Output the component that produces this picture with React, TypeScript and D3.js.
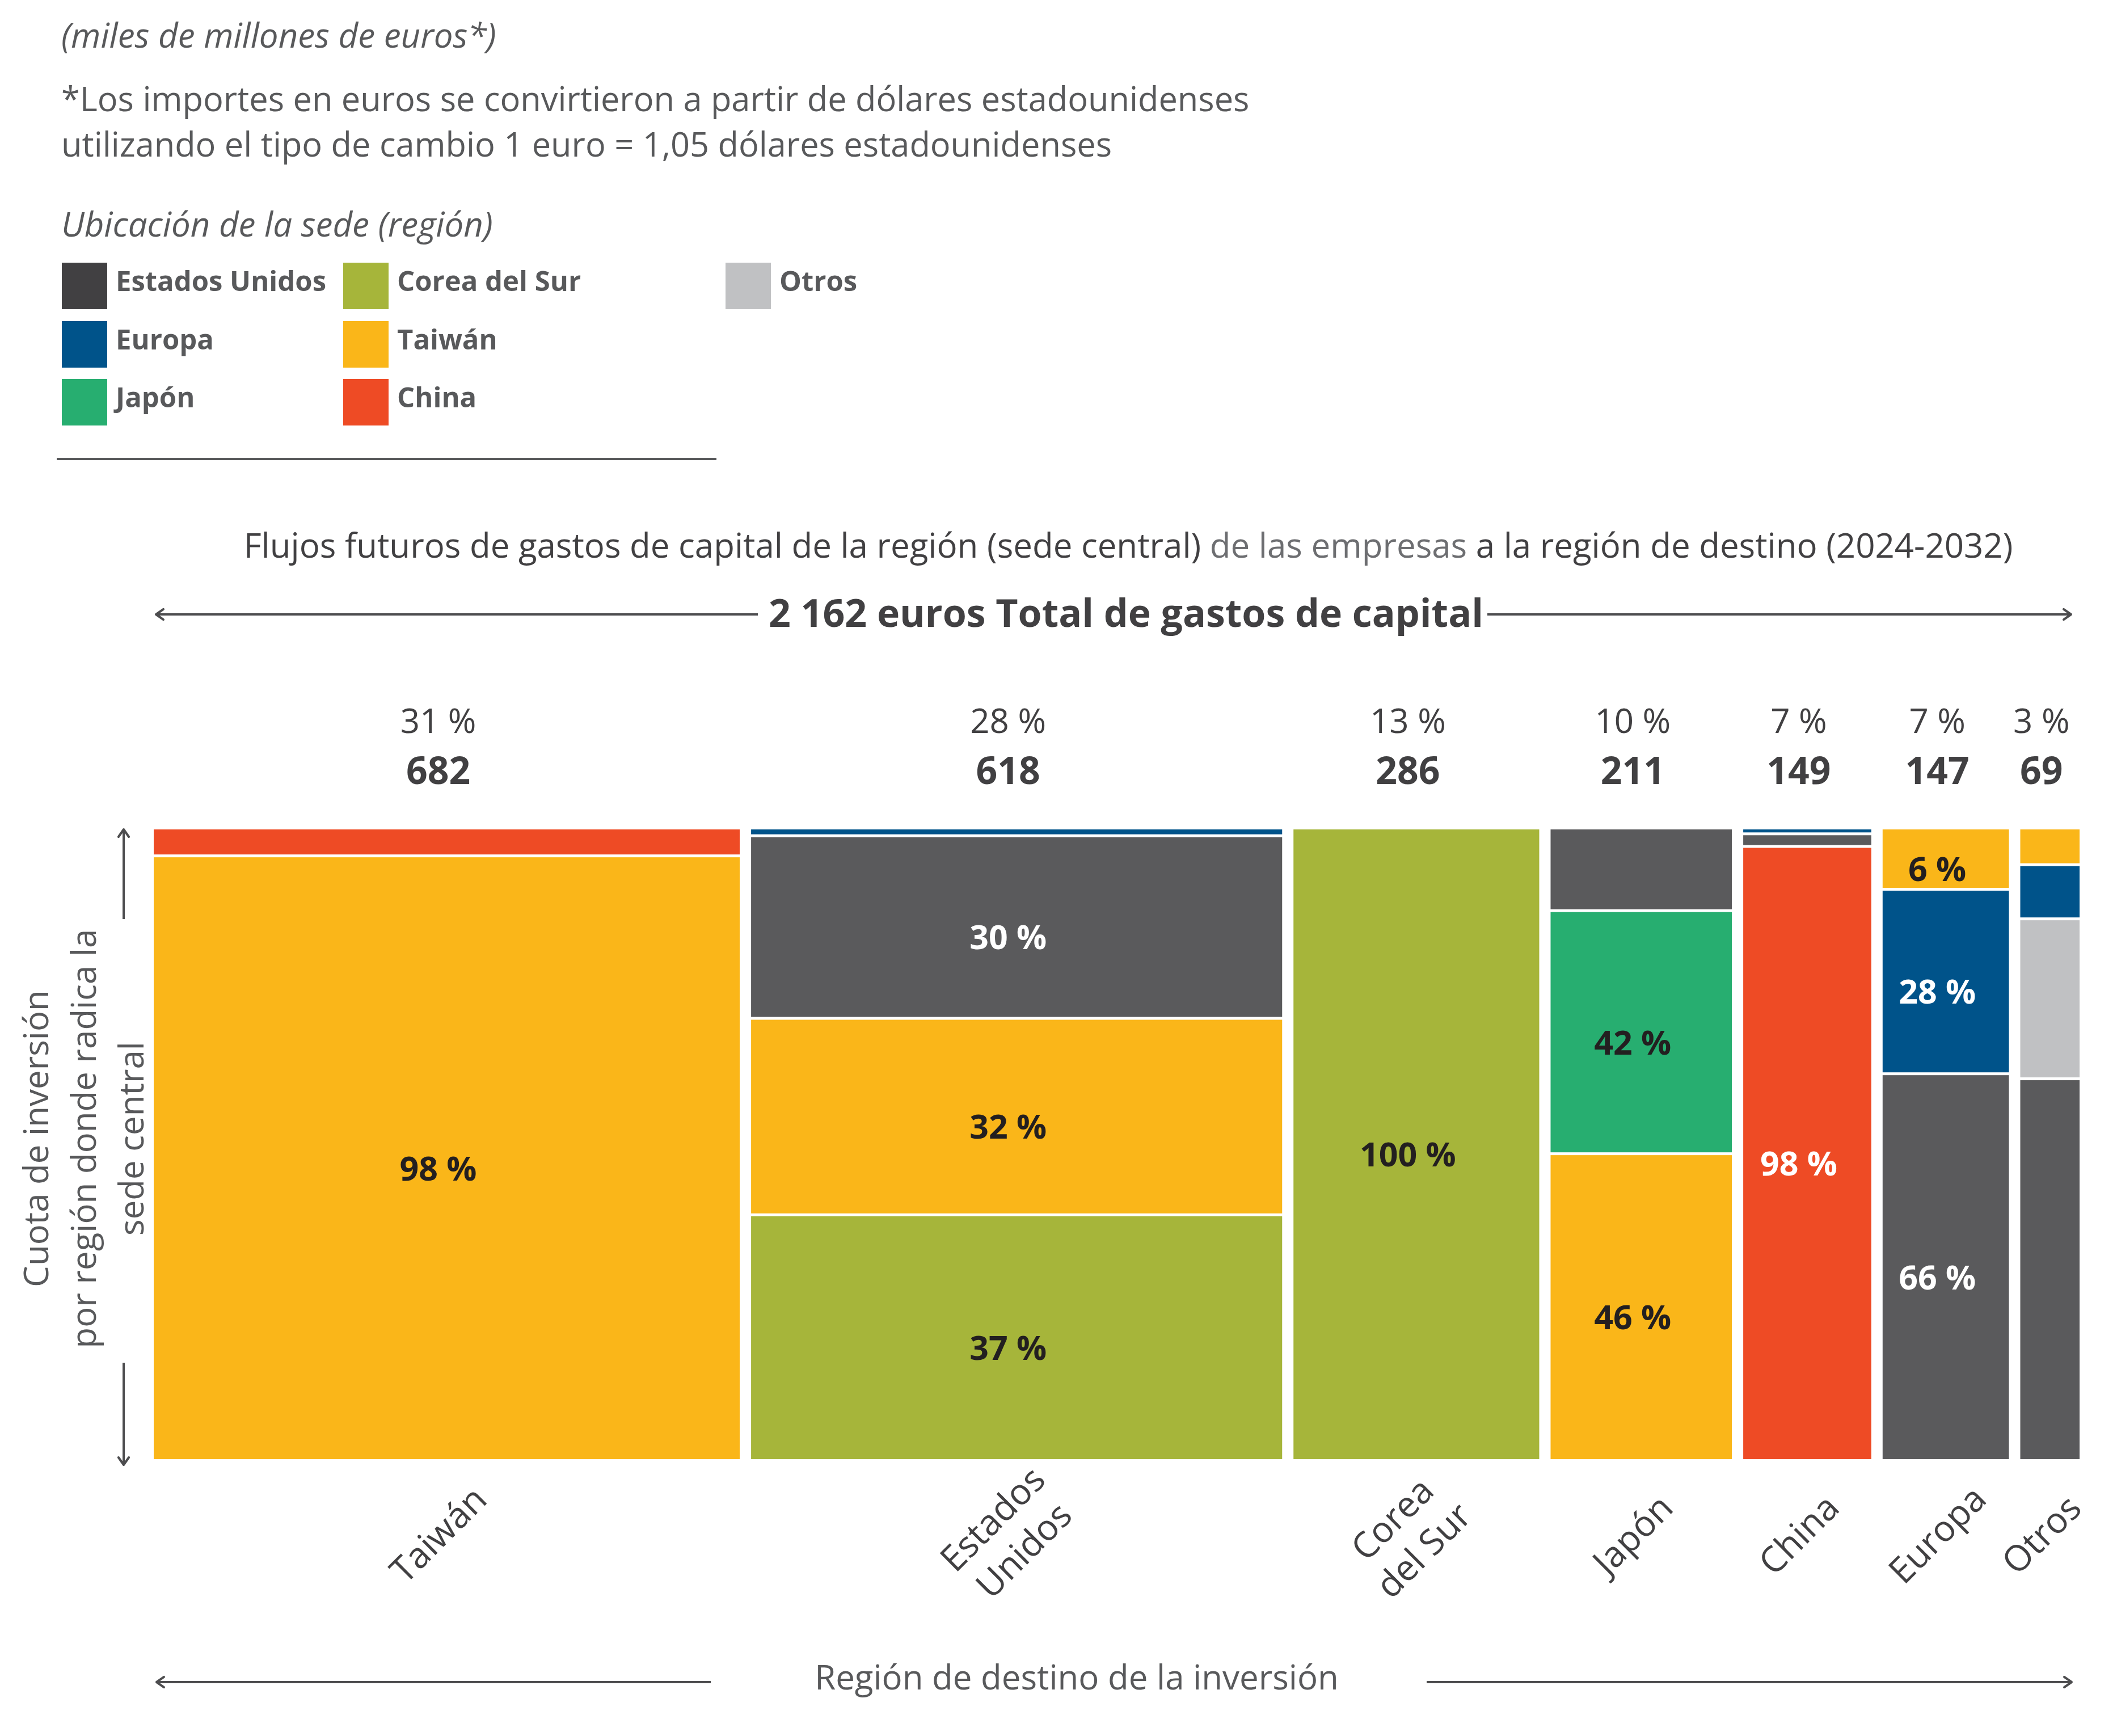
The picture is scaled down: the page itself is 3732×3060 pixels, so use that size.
import { scaleLinear } from 'd3'

const destinations = ['Taiwán', 'Estados Unidos', 'Corea del Sur', 'Japón', 'China', 'Europa', 'Otros']
const destinationLines = [['Taiwán'], ['Estados', 'Unidos'], ['Corea', 'del Sur'], ['Japón'], ['China'], ['Europa'], ['Otros']]
const destinationTotals = [682, 618, 286, 211, 149, 147, 69]
const destinationPercents = ['31 %', '28 %', '13 %', '10 %', '7 %', '7 %', '3 %']

const hqRegions = ['Estados Unidos', 'Europa', 'Japón', 'Corea del Sur', 'Taiwán', 'China', 'Otros']
const hqColors = ['#5a5a5c', '#00538a', '#27ae70', '#a6b53a', '#fab619', '#ee4b25', '#c0c1c3']

// segments of each destination column, top to bottom
const stackRegions = [
  ['China', 'Taiwán'],
  ['Europa', 'Estados Unidos', 'Taiwán', 'Corea del Sur'],
  ['Corea del Sur'],
  ['Estados Unidos', 'Japón', 'Taiwán'],
  ['Europa', 'Estados Unidos', 'China'],
  ['Taiwán', 'Europa', 'Estados Unidos'],
  ['Taiwán', 'Europa', 'Otros', 'Estados Unidos'],
]
const stackShares = [
  [4.2, 95.8],
  [1, 29, 31.2, 38.8],
  [100],
  [12.9, 38.6, 48.5],
  [0.7, 2, 97.3],
  [9.5, 29.3, 61.2],
  [5.6, 8.6, 25.4, 60.4],
]
const stackLabels = [
  ['', '98 %'],
  ['', '30 %', '32 %', '37 %'],
  ['100 %'],
  ['', '42 %', '46 %'],
  ['', '', '98 %'],
  ['6 %', '28 %', '66 %'],
  ['', '', '', ''],
]

const legendColumns = [
  ['Estados Unidos', 'Europa', 'Japón'],
  ['Corea del Sur', 'Taiwán', 'China'],
  ['Otros'],
]

const FONT = "'Open Sans', sans-serif"
const TEXT = '#414042'
const SOFT = '#58595b'

function colorOf(region: string) {
  return hqColors[hqRegions.indexOf(region)]
}

function Arrow({ x, y, dir }: { x: number; y: number; dir: 'left' | 'right' | 'up' | 'down' }) {
  const s = 13
  const d =
    dir === 'left'
      ? `M${x + s},${y - s * 0.7} L${x},${y} L${x + s},${y + s * 0.7}`
      : dir === 'right'
        ? `M${x - s},${y - s * 0.7} L${x},${y} L${x - s},${y + s * 0.7}`
        : dir === 'up'
          ? `M${x - s * 0.7},${y + s} L${x},${y} L${x + s * 0.7},${y + s}`
          : `M${x - s * 0.7},${y - s} L${x},${y} L${x + s * 0.7},${y - s}`
  return <path d={d} fill="none" stroke="#4d4d4f" strokeWidth={4} strokeLinecap="round" strokeLinejoin="round" />
}

export default function App() {
  const width = 3732
  const height = 3060
  const left = 271
  const right = 3666
  const top = 1462
  const bottom = 2572
  const gap = 20
  const segGap = 5
  const nudge = -15

  const total = destinationTotals.reduce((a, b) => a + b, 0)
  const usable = right - left - gap * (destinations.length - 1)
  const xScale = scaleLinear().domain([0, total]).range([0, usable])
  const yScale = scaleLinear().domain([0, 100]).range([top, bottom])

  let running = 0
  const columns = destinations.map((name, i) => {
    const x0 = left + xScale(running) + gap * i
    running += destinationTotals[i]
    const x1 = left + xScale(running) + gap * i
    let acc = 0
    const segs = stackRegions[i].map((region, j) => {
      const s0 = acc
      acc += stackShares[i][j]
      const last = j === stackRegions[i].length - 1
      const y0 = yScale(s0) + (j === 0 ? 0 : segGap / 2)
      const y1 = yScale(acc) - (last ? 0 : segGap / 2)
      return { region, y0, y1, label: stackLabels[i][j] }
    })
    return { name, x0, x1, cx: (x0 + x1) / 2, segs }
  })

  const legendX = [109, 605, 1279]
  const legendY = [463, 566, 668]
  const whiteText = ['Estados Unidos', 'Europa', 'China']

  return (
    <svg width={width} height={height} viewBox={`0 0 ${width} ${height}`} style={{ display: 'block', fontFamily: FONT }}>
      <style>{'body{margin:0}'}</style>
      <rect width={width} height={height} fill="#ffffff" />

      {/* notes */}
      <text x={108} y={84} fontSize={60} fontStyle="italic" fill={SOFT}>(miles de millones de euros*)</text>
      <text x={108} y={196} fontSize={59.5} fill={SOFT}>*Los importes en euros se convirtieron a partir de dólares estadounidenses</text>
      <text x={108} y={276} fontSize={59.5} fill={SOFT}>utilizando el tipo de cambio 1 euro = 1,05 dólares estadounidenses</text>
      <text x={108} y={417} fontSize={60} fontStyle="italic" fill={SOFT}>Ubicación de la sede (región)</text>

      {/* legend */}
      {legendColumns.map((col, ci) =>
        col.map((region, ri) => (
          <g key={region} transform={`translate(${legendX[ci]},${legendY[ri]})`}>
            <rect width={80} height={82} fill={region === 'Estados Unidos' ? '#414042' : colorOf(region)} />
            <text x={95} y={50} fontSize={49} fontWeight={700} fill={SOFT}>{region}</text>
          </g>
        )),
      )}
      <line x1={100} x2={1263} y1={809} y2={809} stroke="#58595b" strokeWidth={4} />

      {/* title */}
      <text x={1989} y={983} fontSize={60} fill={TEXT} textAnchor="middle">
        Flujos futuros de gastos de capital de la región (sede central)
        <tspan fill="#6d6e71"> de las empresas</tspan> a la región de destino (2024-2032)
      </text>
      <text x={1985} y={1105} fontSize={68} fontWeight={700} fill={TEXT} textAnchor="middle">
        2 162 euros Total de gastos de capital
      </text>
      <line x1={275} x2={1336} y1={1083} y2={1083} stroke="#4d4d4f" strokeWidth={4} />
      <Arrow x={275} y={1083} dir="left" />
      <line x1={2622} x2={3651} y1={1083} y2={1083} stroke="#4d4d4f" strokeWidth={4} />
      <Arrow x={3651} y={1083} dir="right" />

      {/* column heads */}
      {columns.map((c, i) => (
        <g key={c.name}>
          <text x={c.cx + nudge} y={1292} fontSize={60} fill={TEXT} textAnchor="middle">{destinationPercents[i]}</text>
          <text x={c.cx + nudge} y={1382} fontSize={66} fontWeight={700} fill={TEXT} textAnchor="middle">{destinationTotals[i]}</text>
        </g>
      ))}

      {/* mosaic */}
      {columns.map((c) => (
        <g key={c.name}>
          {c.segs.map((s, j) => (
            <rect key={j} x={c.x0} y={s.y0} width={c.x1 - c.x0} height={Math.max(0, s.y1 - s.y0)} fill={colorOf(s.region)} />
          ))}
          {c.segs.map((s, j) =>
            s.label ? (
              <text
                key={`l${j}`}
                x={c.cx + nudge}
                y={(s.y0 + s.y1) / 2 + 18}
                dy="0.36em"
                fontSize={59}
                fontWeight={700}
                textAnchor="middle"
                fill={whiteText.includes(s.region) ? '#ffffff' : '#231f20'}
              >
                {s.label}
              </text>
            ) : null,
          )}
        </g>
      ))}

      {/* destination labels */}
      {columns.map((c, i) => {
        const lines = destinationLines[i]
        return (
          <g key={`d${c.name}`} transform={`translate(${c.cx - 15},${2705}) rotate(-45)`}>
            {lines.map((ln, k) => (
              <text
                key={ln}
                x={0}
                y={(k - (lines.length - 1) / 2) * 78}
                dy="0.35em"
                fontSize={63}
                fill={TEXT}
                textAnchor="middle"
              >
                {ln}
              </text>
            ))}
          </g>
        )
      })}

      {/* y axis */}
      <line x1={218} x2={218} y1={1462} y2={1620} stroke="#4d4d4f" strokeWidth={4} />
      <Arrow x={218} y={1462} dir="up" />
      <line x1={218} x2={218} y1={2402} y2={2582} stroke="#4d4d4f" strokeWidth={4} />
      <Arrow x={218} y={2582} dir="down" />
      <g transform="translate(148,2007) rotate(-90)" fill={SOFT} fontSize={60} textAnchor="middle">
        <text x={0} y={-84} dy="0.35em">Cuota de inversión</text>
        <text x={0} y={0} dy="0.35em">por región donde radica la</text>
        <text x={0} y={84} dy="0.35em">sede central</text>
      </g>

      {/* x axis */}
      <line x1={276} x2={1253} y1={2965} y2={2965} stroke="#4d4d4f" strokeWidth={4} />
      <Arrow x={276} y={2965} dir="left" />
      <line x1={2515} x2={3652} y1={2965} y2={2965} stroke="#4d4d4f" strokeWidth={4} />
      <Arrow x={3652} y={2965} dir="right" />
      <text x={1898} y={2978} fontSize={60} fill={SOFT} textAnchor="middle">Región de destino de la inversión</text>
    </svg>
  )
}
